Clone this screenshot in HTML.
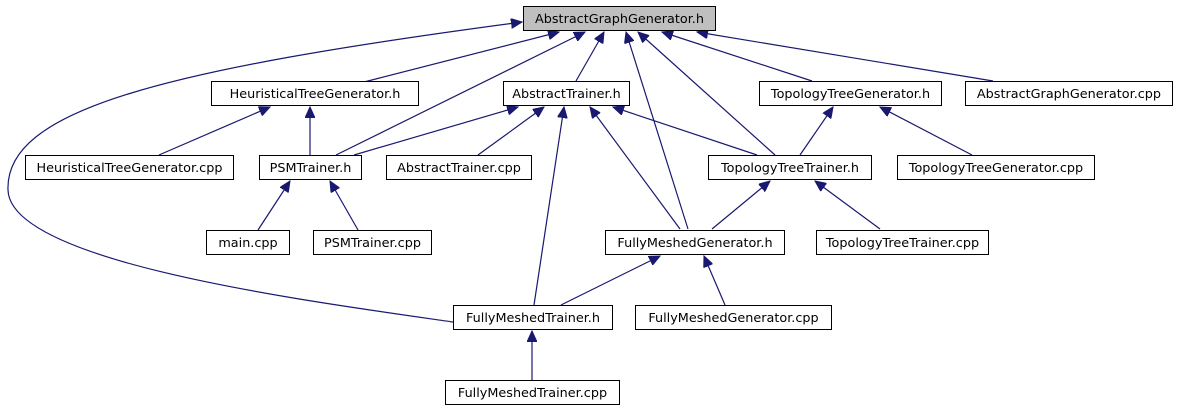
<!DOCTYPE html>
<html><head><meta charset="utf-8"><style>
html,body{margin:0;padding:0;background:#fff;}
svg{display:block;}
text{font-family:"DejaVu Sans","Liberation Sans",sans-serif;font-size:12.8px;fill:#000;}
</style></head><body>
<svg width="1178" height="411" viewBox="0 0 1178 411" xmlns="http://www.w3.org/2000/svg">
<defs>
<marker id="a" markerUnits="userSpaceOnUse" markerWidth="12" markerHeight="10" refX="11" refY="5" orient="auto">
<path d="M0,0 L11,5 L0,10 Z" fill="#191970" stroke="#191970"/>
</marker>
</defs>
<g stroke="#191970" stroke-width="1.2" fill="none" marker-end="url(#a)">
<path d="M453,322 C300,300 10,262 8,190 C5,110 160,70 522,22"/>
<line x1="364" y1="82" x2="559" y2="32"/>
<line x1="336" y1="155" x2="585" y2="32"/>
<line x1="576" y1="81" x2="604" y2="32"/>
<line x1="688" y1="229" x2="626" y2="32"/>
<line x1="775" y1="155" x2="638" y2="32"/>
<line x1="812" y1="81" x2="662" y2="32"/>
<line x1="993" y1="81" x2="697" y2="32"/>
<line x1="159" y1="155" x2="270" y2="107"/>
<line x1="310" y1="155" x2="310" y2="107"/>
<line x1="354" y1="155" x2="518" y2="107"/>
<line x1="478" y1="155" x2="544" y2="107"/>
<line x1="534" y1="305" x2="564" y2="107"/>
<line x1="680" y1="229" x2="590" y2="107"/>
<line x1="757" y1="155" x2="613" y2="107"/>
<line x1="800" y1="155" x2="833" y2="107"/>
<line x1="972" y1="155" x2="880" y2="107"/>
<line x1="258" y1="230" x2="290" y2="181"/>
<line x1="358" y1="230" x2="330" y2="181"/>
<line x1="712" y1="229" x2="770" y2="181"/>
<line x1="880" y1="229" x2="815" y2="181"/>
<line x1="561" y1="305" x2="660" y2="256"/>
<line x1="725" y1="305" x2="704" y2="256"/>
<line x1="532" y1="380" x2="532" y2="331"/>
</g>
<g stroke="#000" stroke-width="1" fill="#fff">
<rect x="523.5" y="6.5" width="192" height="24" fill="#bfbfbf"/>
<rect x="211.5" y="81.5" width="207" height="24"/>
<rect x="503.5" y="81.5" width="126" height="24"/>
<rect x="759.5" y="81.5" width="182" height="24"/>
<rect x="965.5" y="81.5" width="207" height="24"/>
<rect x="25.5" y="155.5" width="208" height="24"/>
<rect x="259.5" y="155.5" width="102" height="24"/>
<rect x="386.5" y="155.5" width="145" height="24"/>
<rect x="708.5" y="155.5" width="163" height="24"/>
<rect x="897.5" y="155.5" width="197" height="24"/>
<rect x="206.5" y="230.5" width="83" height="24"/>
<rect x="313.5" y="230.5" width="118" height="24"/>
<rect x="605.5" y="230.5" width="179" height="24"/>
<rect x="816.5" y="230.5" width="172" height="24"/>
<rect x="453.5" y="305.5" width="159" height="24"/>
<rect x="635.5" y="305.5" width="196" height="24"/>
<rect x="445.5" y="380.5" width="174" height="24"/>
</g>
<g text-anchor="middle">
<text x="619.5" y="23">AbstractGraphGenerator.h</text>
<text x="315" y="98">HeuristicalTreeGenerator.h</text>
<text x="566.5" y="98">AbstractTrainer.h</text>
<text x="850.5" y="98">TopologyTreeGenerator.h</text>
<text x="1069" y="98">AbstractGraphGenerator.cpp</text>
<text x="129.5" y="172">HeuristicalTreeGenerator.cpp</text>
<text x="310.5" y="172">PSMTrainer.h</text>
<text x="459" y="172">AbstractTrainer.cpp</text>
<text x="790" y="172">TopologyTreeTrainer.h</text>
<text x="996" y="172">TopologyTreeGenerator.cpp</text>
<text x="248" y="247">main.cpp</text>
<text x="372.5" y="247">PSMTrainer.cpp</text>
<text x="695" y="247">FullyMeshedGenerator.h</text>
<text x="902.5" y="247">TopologyTreeTrainer.cpp</text>
<text x="533" y="322">FullyMeshedTrainer.h</text>
<text x="733.5" y="322">FullyMeshedGenerator.cpp</text>
<text x="532.5" y="397">FullyMeshedTrainer.cpp</text>
</g>
</svg>
</body></html>
